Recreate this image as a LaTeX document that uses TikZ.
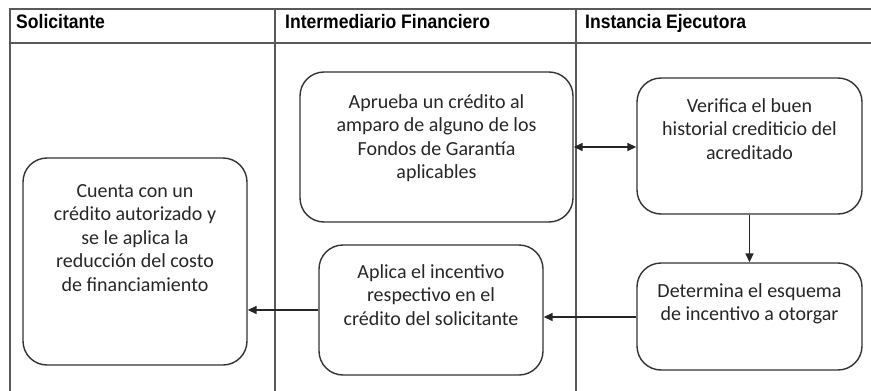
\documentclass[tikz,border=0pt]{standalone}
\usepackage{fontspec}
\setmainfont{Carlito}
\newfontfamily\hdrfont[FakeStretch=0.9]{Liberation Sans}
\usetikzlibrary{arrows.meta}
\begin{document}
\begin{tikzpicture}[x=1pt,y=-1pt,
  lane/.style={draw=black!65,line width=1.5pt},
  hdr/.style={anchor=base west,inner sep=0pt,font=\hdrfont\bfseries\fontsize{19.5}{22}\selectfont},
  box/.style={draw=black!80,line width=1.4pt,rounded corners=24pt,inner sep=0pt},
  txt/.style={anchor=north,inner sep=0pt,align=center,text=black!85,font=\fontsize{20}{23.5}\selectfont},
  arr/.style={draw=black!85,line width=1.6pt,-{Triangle[length=9pt,width=8pt]}},
  darr/.style={draw=black!85,line width=1.6pt,{Triangle[length=9pt,width=8pt]}-{Triangle[length=9pt,width=8pt]}}
]
\useasboundingbox (0,0) rectangle (871,391);
% swimlane table
\draw[lane] (10,391) -- (10,9) -- (871,9);
\draw[lane] (10,43) -- (871,43);
\draw[lane] (275,9) -- (275,391);
\draw[lane] (576,9) -- (576,391);
\node[hdr] (h1) at (16,28) {Solicitante};
\node[hdr] (h2) at (285,28) {Intermediario Financiero};
\node[hdr] (h3) at (585,28) {Instancia Ejecutora};
% boxes
\node[box,minimum width=273pt,minimum height=150pt] (aprueba) at (436.5,147) {};
\node[box,minimum width=225pt,minimum height=136pt] (verifica) at (749.5,146) {};
\node[box,minimum width=224pt,minimum height=207pt] (cuenta) at (135,261.5) {};
\node[box,minimum width=224pt,minimum height=130pt] (aplica) at (431,310) {};
\node[box,minimum width=225pt,minimum height=107pt] (determina) at (749.5,316.5) {};
% texts
\node[txt] (aprueba-t) at (436.5,93) {\rule{0pt}{15pt}Aprueba un crédito al\\amparo de alguno de los\\Fondos de Garantía\\aplicables};
\node[txt] (verifica-t) at (749.5,97) {\rule{0pt}{15pt}Verifica el buen\\historial crediticio del\\acreditado};
\node[txt] (cuenta-t) at (135,182) {\rule{0pt}{15pt}Cuenta con un\\crédito autorizado y\\se le aplica la\\reducción del costo\\de financiamiento};
\node[txt] (aplica-t) at (431,263) {\rule{0pt}{15pt}Aplica el incentivo\\respectivo en el\\crédito del solicitante};
\node[txt] (determina-t) at (749.5,282) {\rule{0pt}{15pt}Determina el esquema\\de incentivo a otorgar};
% connectors
\draw[darr] (aprueba.east) -- (aprueba.east -| verifica.west);
\draw[arr] (verifica.south) -- (determina.north);
\coordinate (dw) at ([yshift=-0.5pt]determina.west);
\draw[arr] (dw) -- (dw -| aplica.east);
\draw[arr] (aplica.west) -- (aplica.west -| cuenta.east);
\end{tikzpicture}
\end{document}
